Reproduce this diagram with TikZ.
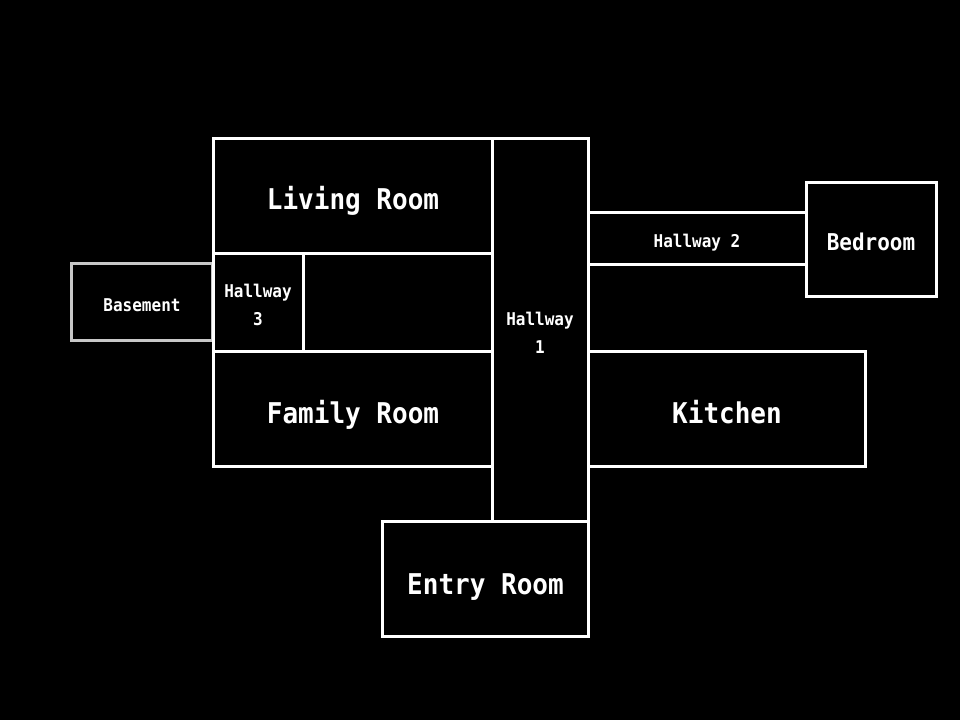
\documentclass[tikz,border=0pt]{standalone}
\usepackage{fontspec}
\setmonofont{DejaVu Sans Mono}
\begin{document}
\begin{tikzpicture}[x=1pt,y=-1pt,
  wall/.style={draw=white,line width=3pt},
  graywall/.style={draw=black!22!white,line width=3pt},
  lbl/.style={text=white,anchor=base,inner sep=0pt,yscale=1.1,transform shape},
  big/.style={lbl,font=\ttfamily\bfseries\fontsize{26}{28}\selectfont},
  mid/.style={lbl,font=\ttfamily\bfseries\fontsize{21}{24}\selectfont},
  small/.style={lbl,font=\ttfamily\bfseries\fontsize{16}{18}\selectfont}]
\fill[black] (0,0) rectangle (960,720);
\useasboundingbox (0,0) rectangle (960,720);
% basement (grey)
\draw[graywall] (71,263.5) rectangle (212.5,340.5);
% rooms
\draw[wall] (213.5,138) rectangle (492.5,253);
\draw[wall] (492.5,138) rectangle (588.5,521.5);
\draw[wall] (213.5,253) rectangle (303.5,351.5);
\draw[wall] (303.5,253) rectangle (492.5,351.5);
\draw[wall] (213.5,351.5) rectangle (492.5,466.5);
\draw[wall] (588.5,351.5) rectangle (865.5,466.5);
\draw[wall] (588.5,212.5) rectangle (806.5,264);
\draw[wall] (806.5,182) rectangle (936,296.5);
\draw[wall] (382.5,521.5) rectangle (588.5,636.5);
% labels
\node[big] (living) at (353,209) {Living Room};
\node[big] (family) at (353,423) {Family Room};
\node[big] (kitchen) at (727,423) {Kitchen};
\node[big] (entry) at (485.5,594) {Entry Room};
\node[mid] (bedroom) at (871,250) {Bedroom};
\node[small] (hall2) at (697,247) {Hallway 2};
\node[small] (hall1a) at (540,325) {Hallway};
\node[small] (hall1b) at (540,353) {1};
\node[small] (hall3a) at (258,297) {Hallway};
\node[small] (hall3b) at (258,325) {3};
\node[small] (basement) at (142,311) {Basement};
\end{tikzpicture}
\end{document}
